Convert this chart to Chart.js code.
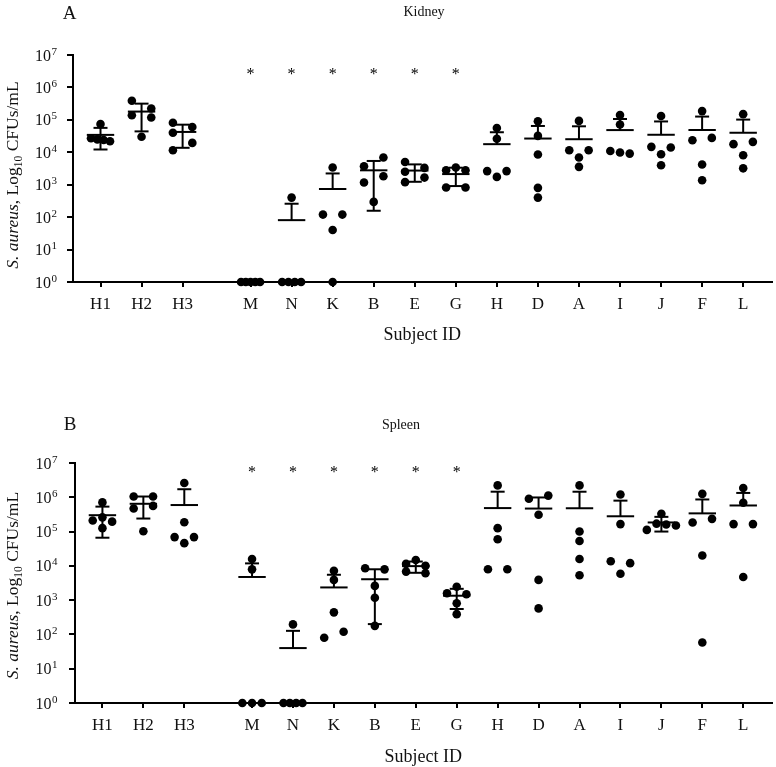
<!DOCTYPE html>
<html><head><meta charset="utf-8">
<script src="https://cdn.jsdelivr.net/npm/chart.js@4.4.1/dist/chart.umd.min.js"></script>
<style>
html,body{margin:0;padding:0;background:#fff;}
#wrap{position:relative;width:776px;height:767px;overflow:hidden;}
canvas{display:block;}
</style></head><body>
<div id="wrap">
<div style="position:absolute;left:0;top:0;width:776px;height:383px;"><canvas id="cA" width="776" height="383"></canvas></div>
<div style="position:absolute;left:0;top:383px;width:776px;height:384px;"><canvas id="cB" width="776" height="384"></canvas></div>
</div>
<script>
// ---------------- data ----------------
const categories = ['H1','H2','H3','M','N','K','B','E','G','H','D','A','I','J','F','L'];
const starred = ['M','N','K','B','E','G'];
const yTickValues = [1, 10, 100, 1000, 10000, 100000, 1000000, 10000000];
const yTickBase = '10';
const yTickExponents = ['0','1','2','3','4','5','6','7'];

// Kidney CFUs/mL, 5 animals per subject (order follows categories)
const kidneyValues = [
  [74000, 27000, 25000, 24000, 22000],      // H1
  [390000, 224000, 139000, 118000, 30000],  // H2
  [81000, 60000, 40000, 19500, 11500],      // H3
  [1, 1, 1, 1, 1],                          // M
  [400, 1, 1, 1, 1],                        // N
  [3400, 120, 120, 40, 1],                  // K
  [6900, 3700, 1830, 1170, 295],            // B
  [5000, 3300, 2500, 1660, 1200],           // E
  [3400, 2800, 2800, 820, 820],             // G
  [56000, 26000, 2630, 2630, 1740],         // H
  [91000, 32000, 8500, 800, 400],           // D
  [93000, 11500, 11500, 6900, 3550],        // A
  [140000, 72000, 11000, 9800, 9100],       // I
  [132000, 14700, 14100, 8700, 4000],       // J
  [186000, 27800, 23600, 4200, 1380],       // F
  [150000, 21000, 17800, 8100, 3200]        // L
];
// Spleen CFUs/mL
const spleenValues = [
  [710000, 260000, 210000, 195000, 126000],    // H1
  [1050000, 1050000, 560000, 470000, 102000],  // H2
  [2600000, 187000, 69000, 69000, 46000],      // H3
  [15800, 7900, 1, 1, 1],                      // M
  [196, 1, 1, 1, 1],                           // N
  [7200, 3900, 440, 120, 80],                  // K
  [8500, 7900, 2600, 1180, 178],               // B
  [14800, 11400, 10000, 6800, 6100],           // E
  [2460, 1590, 1480, 810, 390],                // G
  [2220000, 126000, 60000, 7950, 7950],        // H
  [1120000, 910000, 310000, 3900, 575],        // D
  [2220000, 100000, 53000, 15800, 5300],       // A
  [1200000, 165000, 13600, 12000, 5900],       // I
  [330000, 170000, 160000, 150000, 112000],    // J
  [1260000, 235000, 183000, 20000, 58],        // F
  [1860000, 690000, 165000, 165000, 4750]      // L
];

// ---------------- helpers ----------------
const FONT = '"Liberation Serif", "Times New Roman", serif';
const INK = '#111';
const GROUP_GAP = 0.655;
const xPos = categories.map((c, i) => i + (i >= 3 ? GROUP_GAP : 0));

// beeswarm-like horizontal spreading (offsets in pixels)
function layoutGroup(vals, dpx) {
  const D = 9.7, C = 7.0, R = 2, T = 9;
  const idx = vals.map((v, i) => i).sort((a, b) => vals[b] - vals[a]);
  const py = i => Math.log10(vals[i]) * dpx;
  const rows = [];
  idx.forEach(i => {
    const last = rows.length ? rows[rows.length - 1] : null;
    if (last && py(last[last.length - 1]) - py(i) < R) last.push(i); else rows.push([i]);
  });
  const clusters = [];
  rows.forEach(r => {
    const last = clusters.length ? clusters[clusters.length - 1] : null;
    if (last) {
      const lr = last[last.length - 1];
      if (py(lr[lr.length - 1]) - py(r[0]) < T) { last.push(r); return; }
    }
    clusters.push([r]);
  });
  const off = new Array(vals.length).fill(0);
  clusters.forEach(cl => {
    const all = cl.flat();
    if (all.length === 1) return;
    if (cl.every(r => r.length === 1)) {
      let side = all.length === 2 ? 1 : -1;
      all.forEach(i => { off[i] = side * D; side = -side; });
      return;
    }
    const placed = [];
    const ok = (x, y) => placed.every(p => Math.hypot(p.x - x, p.y - y) >= C);
    cl.forEach(r => {
      const m = r.length;
      if (m === 1) {
        const y = py(r[0]);
        let x = [0, -D, D, -2 * D, 2 * D].find(c => ok(c, y));
        if (x === undefined) x = 0;
        off[r[0]] = x; placed.push({x, y});
      } else {
        const s = m === 2 ? 2 * D : (m === 3 ? D : Math.min(D, 19 / (m - 1)));
        let xs = r.map((i, k) => (k - (m - 1) / 2) * s);
        if (!r.every((i, k) => ok(xs[k], py(i)))) xs = r.map((i, k) => (k - (m - 1) / 2) * s * 1.6);
        r.forEach((i, k) => { off[i] = xs[k]; placed.push({x: xs[k], y: py(i)}); });
      }
    });
    const xsAll = all.map(i => off[i]);
    const c = (Math.min(...xsAll) + Math.max(...xsAll)) / 2;
    all.forEach(i => off[i] -= c);
  });
  return off;
}

function makePanel(canvasId, values, cfg) {
  const panelPlugin = {
    id: 'panel_' + canvasId,
    afterDatasetsDraw(chart) {
      const {ctx, scales: {x, y}} = chart;
      ctx.save();
      ctx.strokeStyle = '#000';
      ctx.lineWidth = 2;
      const hline = (cx, yy, hw) => { ctx.beginPath(); ctx.moveTo(cx - hw, yy); ctx.lineTo(cx + hw, yy); ctx.stroke(); };
      const vline = (cx, y1, y2) => { ctx.beginPath(); ctx.moveTo(cx, y1); ctx.lineTo(cx, y2); ctx.stroke(); };
      values.forEach((vals, i) => {
        const n = vals.length;
        const m = vals.reduce((a, b) => a + b, 0) / n;
        const sd = Math.sqrt(vals.reduce((a, b) => a + (b - m) * (b - m), 0) / (n - 1));
        const px = x.getPixelForValue(xPos[i]);
        const ym = y.getPixelForValue(m);
        hline(px, ym, 13.7);
        if (sd > 0) {
          const yh = y.getPixelForValue(m + sd);
          vline(px, ym, yh); hline(px, yh, 7);
          if (m - sd >= 1) {
            const yl = y.getPixelForValue(m - sd);
            vline(px, ym, yl); hline(px, yl, 7);
          }
        }
      });
      ctx.fillStyle = '#000';
      ctx.font = '16px ' + FONT;
      ctx.textAlign = 'center';
      ctx.textBaseline = 'alphabetic';
      starred.forEach(c => {
        const i = categories.indexOf(c);
        ctx.fillText('*', x.getPixelForValue(xPos[i]), y.getPixelForValue(cfg.starLevel) + 7.5);
      });
      ctx.restore();
    },
    afterDraw(chart) {
      const {ctx, scales: {y}} = chart;
      ctx.save();
      ctx.fillStyle = INK;
      // y tick labels: base 10 with raised exponent, placed by the log scale
      ctx.textAlign = 'right';
      ctx.textBaseline = 'alphabetic';
      yTickValues.forEach((v, i) => {
        const py = y.getPixelForValue(v);
        ctx.font = '11px ' + FONT;
        const ew = ctx.measureText(yTickExponents[i]).width;
        ctx.fillText(yTickExponents[i], cfg.tickRight, py - 0.5);
        ctx.font = '16px ' + FONT;
        ctx.fillText(yTickBase, cfg.tickRight - ew - 0.5, py + 5.5);
      });
      ctx.textBaseline = 'middle';
      ctx.textAlign = 'center';
      ctx.font = '19px ' + FONT;
      ctx.fillText(cfg.letter, cfg.letterX, cfg.letterY);
      ctx.font = '14px ' + FONT;
      ctx.fillText(cfg.title, cfg.titleX, cfg.titleY);
      // y axis title with italic species name and subscript
      const segs = [
        {t: 'S. aureus', f: 'italic 17.5px ' + FONT, dy: 0},
        {t: ', Log', f: '17.5px ' + FONT, dy: 0},
        {t: '10', f: '11.5px ' + FONT, dy: 4},
        {t: ' CFUs/mL', f: '17.5px ' + FONT, dy: 0}
      ];
      ctx.translate(cfg.yLabelX, cfg.yLabelY);
      ctx.rotate(-Math.PI / 2);
      let total = 0;
      segs.forEach(s => { ctx.font = s.f; s.w = ctx.measureText(s.t).width; total += s.w; });
      let xx = -total / 2;
      ctx.textAlign = 'left';
      ctx.textBaseline = 'alphabetic';
      segs.forEach(s => { ctx.font = s.f; ctx.fillText(s.t, xx, s.dy); xx += s.w; });
      ctx.restore();
    }
  };

  const basePoints = [];
  values.forEach((vals, i) => vals.forEach(v => basePoints.push({x: xPos[i], y: v})));

  const chart = new Chart(document.getElementById(canvasId), {
    type: 'scatter',
    data: { datasets: [{
      data: basePoints,
      backgroundColor: '#000',
      borderWidth: 0,
      pointRadius: 4.3,
      pointHoverRadius: 4.3,
      clip: false
    }]},
    options: {
      responsive: false,
      devicePixelRatio: 1,
      animation: false,
      events: [],
      layout: { padding: cfg.padding },
      plugins: { legend: {display: false}, tooltip: {enabled: false} },
      scales: {
        x: {
          type: 'linear', min: -0.67, max: 16.35,
          afterBuildTicks: s => { s.ticks = xPos.map(v => ({value: v})); },
          afterFit: s => { s.height = cfg.xHeight; },
          ticks: { callback: (v, i) => categories[i], autoSkip: false, maxRotation: 0,
                   font: {family: FONT, size: 17}, color: INK, padding: 7 },
          grid: { display: true, drawOnChartArea: false, drawTicks: true, tickLength: 5, color: '#000', lineWidth: 2 },
          border: { display: true, color: '#000', width: 2 },
          title: { display: true, text: 'Subject ID', color: INK,
                   font: {family: FONT, size: 18, lineHeight: 1}, padding: {top: 0, bottom: cfg.titlePad} }
        },
        y: {
          type: 'logarithmic', min: 1, max: 10000000,
          afterBuildTicks: s => { s.ticks = yTickValues.map(v => ({value: v})); },
          afterFit: s => { s.width = cfg.yWidth; },
          ticks: { display: false },
          grid: { display: true, drawOnChartArea: false, drawTicks: true, tickLength: 6, color: '#000', lineWidth: 2 },
          border: { display: true, color: '#000', width: 2 }
        }
      }
    },
    plugins: [panelPlugin]
  });

  // spread overlapping dots horizontally using the scales' pixel sizes
  const xs = chart.scales.x, ys = chart.scales.y;
  const unit = xs.getPixelForValue(1) - xs.getPixelForValue(0);
  const dpx = ys.getPixelForValue(1) - ys.getPixelForValue(10);
  const pts = [];
  values.forEach((vals, i) => {
    const off = layoutGroup(vals, dpx);
    vals.forEach((v, j) => pts.push({x: xPos[i] + off[j] / unit, y: v}));
  });
  chart.data.datasets[0].data = pts;
  chart.update('none');
  return chart;
}

makePanel('cA', kidneyValues, {
  letter: 'A', letterX: 69.5, letterY: 14.5,
  title: 'Kidney', titleX: 424, titleY: 12,
  yLabelX: 17.5, yLabelY: 175,
  tickRight: 57, starLevel: 3000000,
  padding: {top: 55, right: 1, left: 0, bottom: 0},
  xHeight: 101, yWidth: 73, titlePad: 39
});
makePanel('cB', spleenValues, {
  letter: 'B', letterX: 70, letterY: 42.5,
  title: 'Spleen', titleX: 401, titleY: 42,
  yLabelX: 17.5, yLabelY: 202.5,
  tickRight: 57.5, starLevel: 6600000,
  padding: {top: 80, right: 3, left: 0, bottom: 0},
  xHeight: 64, yWidth: 75, titlePad: 1
});
</script>
</body></html>
